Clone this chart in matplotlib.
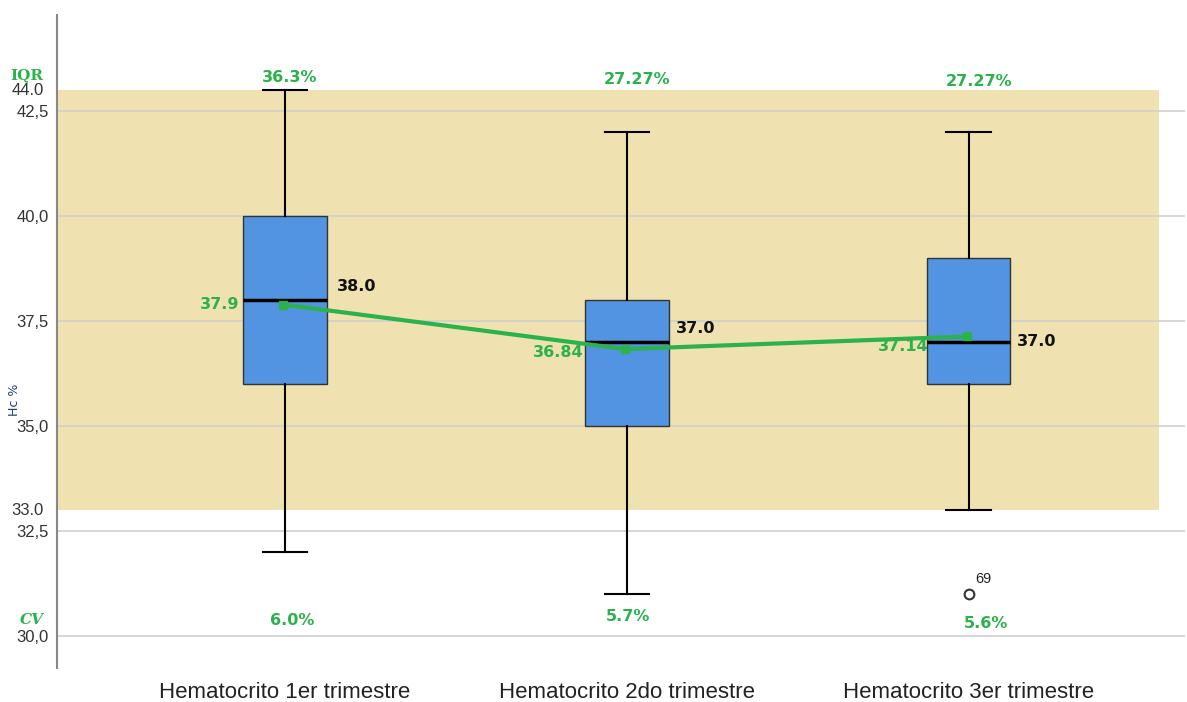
import numpy as np
import matplotlib.pyplot as plt
from matplotlib.ticker import FuncFormatter

# data
categories = ['Hematocrito 1er trimestre', 'Hematocrito 2do trimestre', 'Hematocrito 3er trimestre']
whislo = [32.0, 31.0, 33.0]
q1 = [36.0, 35.0, 36.0]
med = [38.0, 37.0, 37.0]
q3 = [40.0, 38.0, 39.0]
whishi = [43.0, 42.0, 42.0]
outliers = [[], [], [31.0]]
outlier_ids = [[], [], ['69']]
means = [37.9, 36.84, 37.14]
mean_labels = ['37.9', '36.84', '37.14']
iqr_pct = ['36.3%', '27.27%', '27.27%']
cv_pct = ['6.0%', '5.7%', '5.6%']
band_low, band_high = 33.0, 43.0

green = '#2bb24c'
pos = np.arange(1, len(categories) + 1)

fig = plt.figure(figsize=(11.87, 7.02), dpi=100)
ax = fig.add_axes([0.048, 0.048, 0.95, 0.931])

ax.set_xlim(0.333, 3.632)
ax.set_ylim(29.24, 44.8)

# reference band
ax.fill_between([0.333, 3.558], band_low, band_high, color='#f0e2b0', zorder=0, lw=0)

ax.set_yticks([30, 32.5, 35, 37.5, 40, 42.5])
ax.yaxis.set_major_formatter(FuncFormatter(lambda v, p: f'{v:.1f}'.replace('.', ',')))
ax.grid(axis='y', color='#cfcfcf', lw=1.2, zorder=1)
ax.set_axisbelow(True)

stats = []
for i in range(len(categories)):
    stats.append(dict(whislo=whislo[i], q1=q1[i], med=med[i], q3=q3[i],
                      whishi=whishi[i], fliers=outliers[i]))
ax.bxp(stats, positions=pos, widths=0.245, patch_artist=True,
       boxprops=dict(facecolor='#5294e2', edgecolor='#333333', lw=1),
       medianprops=dict(color='black', lw=2.5),
       whiskerprops=dict(color='black', lw=1.5),
       capprops=dict(color='black', lw=1.5),
       capwidths=0.13,
       flierprops=dict(marker='o', markerfacecolor='white', markeredgecolor='#333333',
                       markersize=7, markeredgewidth=1.5),
       zorder=3)

for i, ids in enumerate(outlier_ids):
    for v, lab in zip(outliers[i], ids):
        ax.text(pos[i] + 0.02, v + 0.2, lab, fontsize=10.5, color='#222222', va='bottom',
                family='Liberation Sans')

# mean line
ax.plot(pos - 0.005, means, color=green, lw=3, marker='s', markersize=6, zorder=4)

label_font = dict(fontsize=11.5, fontweight='bold', family='DejaVu Sans')
mean_off = [(-0.19, 0.0), (-0.2, -0.08), (-0.19, -0.24)]
med_off = [(0.21, 0.32), (0.2, 0.32), (0.2, 0.03)]
for i in range(len(categories)):
    ax.text(pos[i] + mean_off[i][0], means[i] + mean_off[i][1], mean_labels[i],
            color=green, ha='center', va='center', **label_font)
    ax.text(pos[i] + med_off[i][0], med[i] + med_off[i][1], f'{med[i]:.1f}',
            color='#111111', ha='center', va='center', **label_font)
    ax.text(pos[i] + [0.015, 0.03, 0.03][i], [43.3, 43.25, 43.2][i], iqr_pct[i],
            color=green, ha='center', va='center', **label_font)
    ax.text(pos[i] + [0.02, 0.005, 0.05][i], [30.38, 30.48, 30.3][i], cv_pct[i],
            color=green, ha='center', va='center', **label_font)

# left side annotations
trans = ax.get_yaxis_transform()
ax.text(-0.012, 43.0, '44.0', transform=trans, ha='right', va='center', fontsize=12,
        color='#333333', family='Liberation Sans')
ax.text(-0.012, 43.2, 'IQR', transform=trans, ha='right', va='bottom', fontsize=11,
        fontweight='bold', color=green, family='DejaVu Serif')
ax.text(-0.012, 33.0, '33.0', transform=trans, ha='right', va='center', fontsize=12,
        color='#333333', family='Liberation Sans')
ax.text(-0.012, 30.4, 'CV', transform=trans, ha='right', va='center', fontsize=11,
        fontweight='bold', color=green, family='DejaVu Serif', style='italic')

ax.set_xticks(pos)
ax.set_xticklabels(categories, fontsize=16, color='#222222', family='Liberation Sans')
for t in ax.get_yticklabels():
    t.set_family('Liberation Sans')
ax.tick_params(axis='both', length=0)
ax.tick_params(axis='y', labelsize=12, labelcolor='#333333', pad=6)
ax.tick_params(axis='x', pad=10)
fig.text(15 / 1187, 1 - 400 / 702, 'Hc %', rotation=90, fontsize=9, color='#1f3a7a',
         ha='center', va='center')

for s in ['top', 'right', 'bottom']:
    ax.spines[s].set_visible(False)
ax.spines['left'].set_color('#888888')
ax.spines['left'].set_linewidth(1.5)

fig.savefig('out.png', dpi=100)
